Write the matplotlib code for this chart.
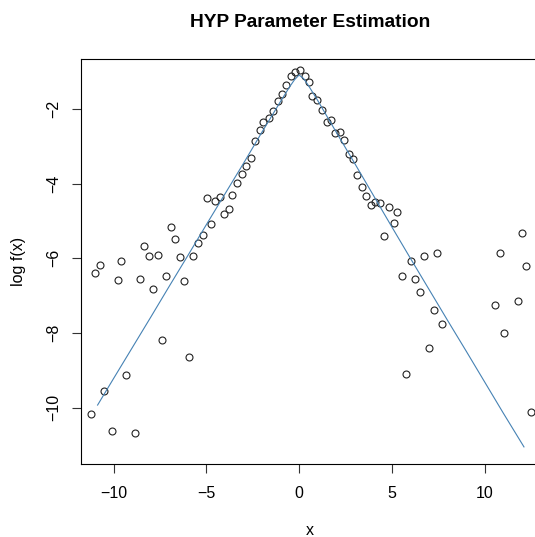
import matplotlib
matplotlib.use("Agg")
import matplotlib.pyplot as plt

plt.rcParams["font.family"] = ["Liberation Sans", "DejaVu Sans"]

# log-histogram points (bin midpoints and log density)
bin_mid = [
    -11.20, -11.00, -10.73, -10.53, -10.07, -9.78, -9.59, -9.32, -8.83, -8.58,
    -8.36, -8.09, -7.89, -7.63, -7.38, -7.16, -6.89, -6.68, -6.42, -6.21,
    -5.96, -5.74, -5.47, -5.20, -4.99, -4.74, -4.52, -4.27, -4.05, -3.80,
    -3.59, -3.33, -3.07, -2.84, -2.59, -2.37, -2.11, -1.93, -1.63, -1.43,
    -1.16, -0.92, -0.68, -0.42, -0.20, 0.05, 0.31, 0.54, 0.72, 0.98,
    1.24, 1.48, 1.73, 1.92, 2.19, 2.42, 2.69, 2.93, 3.14, 3.39,
    3.62, 3.86, 4.10, 4.36, 4.57, 4.84, 5.11, 5.30, 5.57, 5.78,
    6.03, 6.27, 6.52, 6.73, 6.98, 7.25, 7.45, 7.72, 10.55, 10.82,
    11.04, 11.78, 12.03, 12.25, 12.49,
]
log_dens = [
    -10.16, -6.40, -6.19, -9.54, -10.63, -6.59, -6.06, -9.12, -10.69, -6.55,
    -5.66, -5.95, -6.82, -5.92, -8.20, -6.47, -5.17, -5.49, -5.97, -6.61,
    -8.64, -5.95, -5.59, -5.38, -4.38, -5.09, -4.46, -4.36, -4.80, -4.67,
    -4.31, -3.99, -3.75, -3.52, -3.31, -2.87, -2.56, -2.35, -2.24, -2.05,
    -1.79, -1.61, -1.35, -1.13, -1.01, -0.96, -1.12, -1.27, -1.66, -1.77,
    -2.03, -2.34, -2.29, -2.65, -2.62, -2.82, -3.21, -3.33, -3.78, -4.10,
    -4.34, -4.57, -4.50, -4.51, -5.40, -4.62, -5.06, -4.75, -6.48, -9.09,
    -6.08, -6.56, -6.89, -5.93, -8.41, -7.39, -5.87, -7.76, -7.26, -5.87,
    -7.99, -7.15, -5.33, -6.21, -10.11,
]

# fitted hyperbolic log density
fit_x = [
    -10.86, -10.0, -9.0, -8.0, -7.0, -6.0, -5.0, -4.0, -3.0, -2.0,
    -1.0, -0.5, -0.25, 0.0, 0.25, 0.5, 1.0, 2.0, 3.0, 4.0,
    5.0, 6.0, 7.0, 8.0, 9.0, 10.0, 11.0, 12.12,
]
fit_y = [
    -9.93, -9.22, -8.40, -7.58, -6.75, -5.93, -5.10, -4.28, -3.46, -2.62,
    -1.80, -1.40, -1.22, -1.09, -1.19, -1.37, -1.77, -2.62, -3.46, -4.31,
    -5.16, -6.00, -6.83, -7.66, -8.48, -9.31, -10.14, -11.05,
]

fig = plt.figure(figsize=(5.35, 5.37), dpi=100)
ax = fig.add_axes([0.1505, 0.1365, 0.858, 0.7531])

ax.plot(bin_mid, log_dens, linestyle="none", marker="o", markersize=5.0,
        markerfacecolor="none", markeredgecolor="#222222", markeredgewidth=0.8)
ax.plot(fit_x, fit_y, color="steelblue", linewidth=0.8)

ax.set_xlim(-11.78, 12.96)
ax.set_ylim(-11.50, -0.67)
ax.set_xticks([-10, -5, 0, 5, 10])
ax.set_yticks([-2, -4, -6, -8, -10])

for side in ax.spines.values():
    side.set_linewidth(0.8)
    side.set_color("black")

ax.tick_params(direction="out", length=6.6, width=0.8, color="#333333",
               labelsize=11.5)
ax.tick_params(axis="x", pad=9.5)
ax.tick_params(axis="y", pad=7.5)
for lab in ax.get_yticklabels():
    lab.set_rotation(90)
    lab.set_va("center")

ax.set_xlabel("x", fontsize=11.5, labelpad=15.5)
ax.set_ylabel("log f(x)", fontsize=11.5, labelpad=14)
ax.set_title("HYP Parameter Estimation", fontsize=13.8, fontweight="bold", pad=23)

fig.savefig("out.png", dpi=100)
